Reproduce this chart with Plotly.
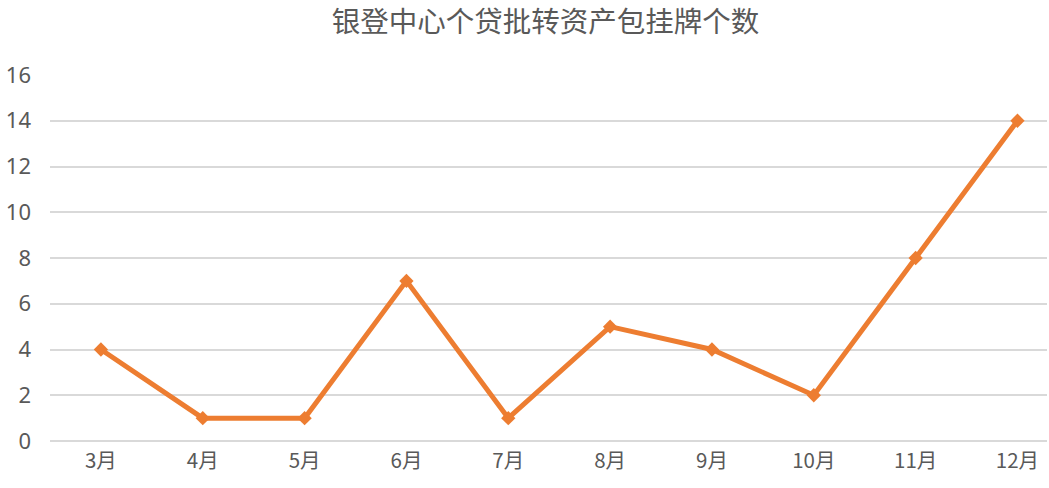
import plotly.graph_objects as go

months = ["3月", "4月", "5月", "6月", "7月", "8月", "9月", "10月", "11月", "12月"]
counts = [4, 1, 1, 7, 1, 5, 4, 2, 8, 14]
title_text = "银登中心个贷批转资产包挂牌个数"
y_ticks = [0, 2, 4, 6, 8, 10, 12, 14, 16]

fig = go.Figure()
fig.add_trace(go.Scatter(
    x=list(range(len(months))), y=counts, mode="lines+markers",
    line=dict(color="#ED7D31", width=5),
    marker=dict(symbol="diamond", size=11, color="#ED7D31"),
    showlegend=False,
))
fig.update_layout(
    width=1049, height=488,
    paper_bgcolor="white", plot_bgcolor="white",
    margin=dict(l=50, r=2, t=75, b=47, autoexpand=False),
    title=dict(text=title_text, x=0.52, xanchor="center", y=0.955, yanchor="middle",
               font=dict(family="Noto Sans CJK SC", size=28.5, color="#595959")),
    font=dict(family="Noto Sans CJK SC", color="#595959"),
)
fig.update_xaxes(
    range=[-0.5, 9.29], tickvals=list(range(len(months))), ticktext=months,
    showgrid=False, zeroline=False, showline=False, automargin=False,
    tickfont=dict(size=20.5, color="#595959"), ticklabelstandoff=5,
)
fig.update_yaxes(
    range=[0, 16], tickvals=y_ticks, showgrid=True, gridcolor="#D9D9D9", gridwidth=1.5,
    zeroline=True, zerolinecolor="#D9D9D9", zerolinewidth=1.5, showline=False, automargin=False,
    tickfont=dict(size=22, color="#595959", family="Noto Sans"), ticklabelstandoff=18,
)
fig.write_html("out.html", config={"displayModeBar": False},
               post_script="document.body.style.margin='0';document.body.style.overflow='hidden';")
